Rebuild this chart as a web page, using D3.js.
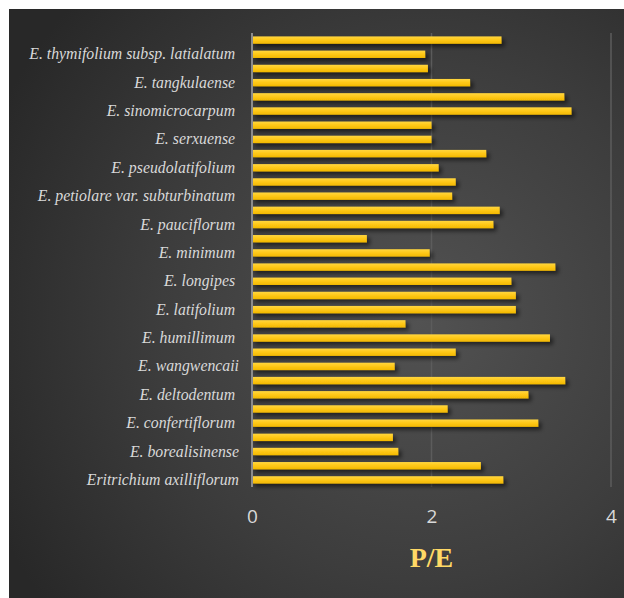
<!DOCTYPE html>
<html>
<head>
<meta charset="utf-8">
<script src="https://cdn.jsdelivr.net/npm/d3@7"></script>
<style>
  html, body { margin: 0; padding: 0; background: #ffffff; }
  svg { display: block; }
  .cat text {
    white-space: pre;
    font-family: "Liberation Serif", "Times New Roman", serif;
    font-style: italic;
    font-size: 15.8px;
    fill: #d9d9d9;
  }
  .val text {
    font-family: "Open Sans", "Liberation Sans", sans-serif;
    font-size: 19px;
    fill: #d9d9d9;
  }
</style>
</head>
<body>
<svg id="chart" width="624" height="598"></svg>
<script>
// Species, listed bottom to top; every second name is left without a drawn label
const species = [
  "Eritrichium axilliflorum", "",
  "E. borealisinense", "",
  "E. confertiflorum ", "",
  "E. deltodentum ", "",
  "E. wangwencaii", "",
  "E. humillimum ", "",
  "E. latifolium ", "",
  "E. longipes ", "",
  "E. minimum ", "",
  "E. pauciflorum ", "",
  "E. petiolare var. subturbinatum ", "",
  "E. pseudolatifolium ", "",
  "E. serxuense ", "",
  "E. sinomicrocarpum ", "",
  "E. tangkulaense ", "",
  "E. thymifolium subsp. latialatum ", ""
];

// P/E ratio per species, same order as above
const peValues = [
  2.80, 2.55, 1.63, 1.57, 3.19, 2.18, 3.08, 3.49,
  1.59, 2.27, 3.32, 1.71, 2.94, 2.94, 2.89, 3.38,
  1.98, 1.28, 2.69, 2.76, 2.23, 2.27, 2.08, 2.61,
  2.00, 2.00, 3.56, 3.48, 2.43, 1.96, 1.93, 2.78
];

const xTicks = [0, 2, 4];
const xTitle = "P/E";

const svg = d3.select("#chart");
const defs = svg.append("defs");

// Dark radial backdrop
const bg = defs.append("radialGradient")
  .attr("id", "bgGrad")
  .attr("gradientUnits", "userSpaceOnUse")
  .attr("cx", 420).attr("cy", 320).attr("r", 470);
bg.append("stop").attr("offset", "0%").attr("stop-color", "#525252");
bg.append("stop").attr("offset", "55%").attr("stop-color", "#3d3d3d");
bg.append("stop").attr("offset", "100%").attr("stop-color", "#282828");

// Gold bar fill, lighter along the top edge
const barGrad = defs.append("linearGradient")
  .attr("id", "barGrad").attr("x1", 0).attr("y1", 0).attr("x2", 0).attr("y2", 1);
barGrad.append("stop").attr("offset", "0%").attr("stop-color", "#ffd640");
barGrad.append("stop").attr("offset", "45%").attr("stop-color", "#ffc91a");
barGrad.append("stop").attr("offset", "100%").attr("stop-color", "#f2b800");

// Soft drop shadow under the bars
const shadow = defs.append("filter").attr("id", "barShadow")
  .attr("x", "-5%").attr("y", "-60%").attr("width", "115%").attr("height", "260%");
shadow.append("feGaussianBlur").attr("in", "SourceAlpha").attr("stdDeviation", 2.2).attr("result", "blur");
shadow.append("feOffset").attr("in", "blur").attr("dx", 2.5).attr("dy", 3).attr("result", "off");
shadow.append("feComponentTransfer").attr("in", "off").attr("result", "shade")
  .append("feFuncA").attr("type", "linear").attr("slope", 0.55);
const merge = shadow.append("feMerge");
merge.append("feMergeNode").attr("in", "shade");
merge.append("feMergeNode").attr("in", "SourceGraphic");

svg.append("rect")
  .attr("x", 9).attr("y", 9).attr("width", 615).attr("height", 589)
  .attr("fill", "url(#bgGrad)");

const plot = { left: 252, right: 611, top: 33, bottom: 487 };

const x = d3.scaleLinear().domain([0, 4]).range([plot.left, plot.right]);
const idx = d3.range(species.length);
const y = d3.scaleBand()
  .domain(idx.slice().reverse())
  .range([plot.top, plot.bottom])
  .paddingInner(0.48).paddingOuter(0.24);

// Vertical gridlines
svg.append("g")
  .selectAll("line")
  .data(xTicks.filter(t => t > 0))
  .join("line")
  .attr("x1", d => x(d)).attr("x2", d => x(d))
  .attr("y1", plot.top).attr("y2", plot.bottom)
  .attr("stroke", "#5c5c5c").attr("stroke-width", 1.5);

// Bars
svg.append("g")
  .attr("filter", "url(#barShadow)")
  .selectAll("rect")
  .data(idx)
  .join("rect")
  .attr("x", x(0))
  .attr("y", i => y(i))
  .attr("width", i => x(peValues[i]) - x(0))
  .attr("height", y.bandwidth())
  .attr("fill", "url(#barGrad)");

// Category axis line
svg.append("line")
  .attr("x1", x(0)).attr("x2", x(0))
  .attr("y1", plot.top).attr("y2", plot.bottom)
  .attr("stroke", "#8c8c8c").attr("stroke-width", 2);

// Category labels
const yAxis = d3.axisLeft(y)
  .tickFormat(i => species[i])
  .tickSize(0).tickPadding(0);
const yG = svg.append("g")
  .attr("class", "cat")
  .attr("transform", `translate(${x(0) - 13},0)`)
  .call(yAxis);
yG.attr("font-family", null).attr("font-size", null);
yG.select(".domain").remove();

// Value axis labels
const xAxis = d3.axisBottom(x).tickValues(xTicks).tickFormat(d3.format("d"))
  .tickSize(0).tickPadding(0);
const xG = svg.append("g")
  .attr("class", "val")
  .attr("transform", `translate(0,${plot.bottom + 22})`)
  .call(xAxis);
xG.attr("font-family", null).attr("font-size", null);
xG.select(".domain").remove();
xG.selectAll("text").attr("dy", "0.75em");

// Axis title
svg.append("text")
  .attr("x", x(2)).attr("y", 567)
  .attr("text-anchor", "middle")
  .attr("fill", "#ffd966")
  .attr("font-family", "'Liberation Serif', 'Times New Roman', serif")
  .attr("font-weight", "bold")
  .attr("font-size", 28)
  .text(xTitle);
</script>
</body>
</html>
